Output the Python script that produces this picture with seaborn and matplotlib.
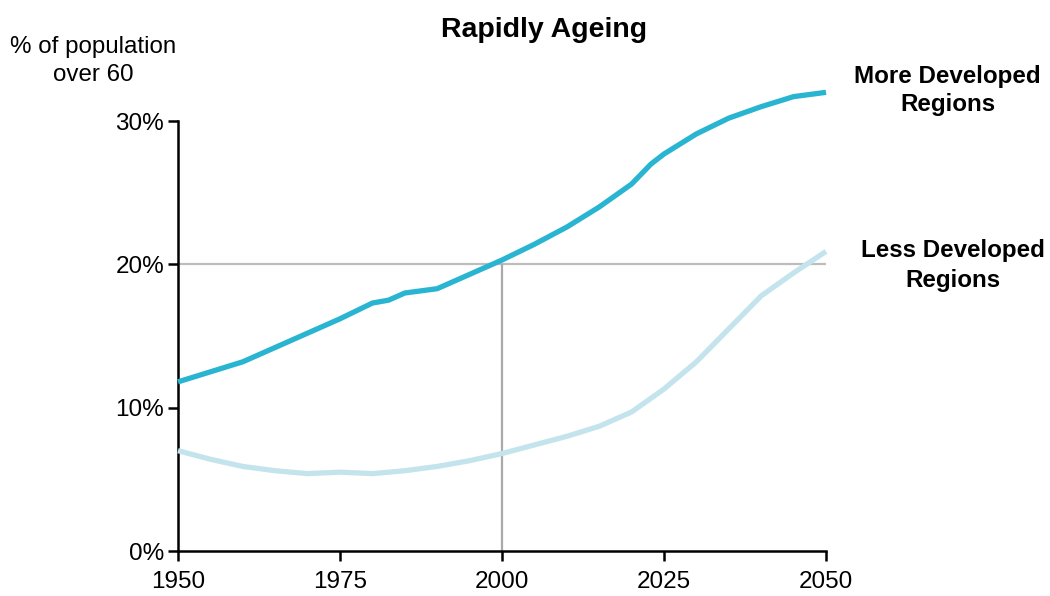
import matplotlib
matplotlib.use("Agg")
import matplotlib.pyplot as plt
import seaborn as sns
import pandas as pd

# Share of population aged over 60 (%)
years_more = [1950, 1955, 1960, 1965, 1970, 1975, 1980, 1982.5, 1985, 1990, 1995,
              2000, 2005, 2010, 2015, 2020, 2023, 2025, 2030, 2035, 2040, 2045, 2050]
more_developed = [11.8, 12.5, 13.2, 14.2, 15.2, 16.2, 17.3, 17.5, 18.0, 18.3, 19.3,
                  20.3, 21.4, 22.6, 24.0, 25.6, 27.0, 27.7, 29.1, 30.2, 31.0, 31.7, 32.0]

years_less = [1950, 1955, 1960, 1965, 1970, 1975, 1980, 1985, 1990, 1995, 2000,
              2005, 2010, 2015, 2020, 2025, 2030, 2035, 2040, 2045, 2050]
less_developed = [7.0, 6.4, 5.9, 5.6, 5.4, 5.5, 5.4, 5.6, 5.9, 6.3, 6.8,
                  7.4, 8.0, 8.7, 9.7, 11.3, 13.2, 15.5, 17.8, 19.4, 20.9]

x_ticks = [1950, 1975, 2000, 2025, 2050]
y_ticks = [0, 10, 20, 30]
y_tick_labels = ["0%", "10%", "20%", "30%"]

df = pd.concat([
    pd.DataFrame({"year": years_more, "share": more_developed, "region": "More Developed Regions"}),
    pd.DataFrame({"year": years_less, "share": less_developed, "region": "Less Developed Regions"}),
])

sns.set_style("white")
plt.rcParams["font.family"] = ["Liberation Sans", "DejaVu Sans"]
plt.rcParams["text.color"] = "black"

fig = plt.figure(figsize=(10.5, 5.96), dpi=100)
ax = fig.add_axes([178 / 1050, 1 - 551 / 596, (826 - 178) / 1050, (551 - 121) / 596])

# reference lines at 20% and year 2000
ax.plot([1950, 2050], [20, 20], color="#bdbdbd", lw=1.6, zorder=1, clip_on=False)
ax.plot([2000, 2000], [0, 20], color="#aaaaaa", lw=1.6, zorder=1)

palette = {"More Developed Regions": "#29b5d2", "Less Developed Regions": "#c4e4ed"}
sns.lineplot(data=df, x="year", y="share", hue="region", palette=palette,
             linewidth=3.8, legend=False, ax=ax, zorder=3)
for line in ax.lines:
    line.set_clip_on(False)
    line.set_solid_capstyle("butt")

ax.set_xlim(1950, 2050)
ax.set_ylim(0, 30)
ax.set_xticks(x_ticks)
ax.set_xticklabels([str(y) for y in x_ticks])
ax.set_yticks(y_ticks)
ax.set_yticklabels(y_tick_labels)
ax.set_xlabel("")
ax.set_ylabel("")

for side in ["top", "right"]:
    ax.spines[side].set_visible(False)
for side in ["left", "bottom"]:
    ax.spines[side].set_color("black")
    ax.spines[side].set_linewidth(1.8)

ax.tick_params(axis="both", which="major", direction="out", length=7, width=1.8,
               color="black", labelsize=17.5, labelcolor="black", pad=3)
ax.tick_params(axis="x", bottom=True, pad=7.5)
ax.tick_params(axis="y", left=True)

fig.text(544 / 1050, 1 - 30 / 596, "Rapidly Ageing", ha="center", va="center",
         fontsize=20.5, fontweight="bold")
fig.text(93 / 1050, 1 - 47 / 596, "% of population", ha="center", va="center", fontsize=17.4)
fig.text(93 / 1050, 1 - 75 / 596, "over 60", ha="center", va="center", fontsize=17.4)

fig.text(947 / 1050, 1 - 77 / 596, "More Developed", ha="center", va="center",
         fontsize=17.4, fontweight="bold")
fig.text(948 / 1050, 1 - 105 / 596, "Regions", ha="center", va="center",
         fontsize=17.4, fontweight="bold")
fig.text(953 / 1050, 1 - 251 / 596, "Less Developed", ha="center", va="center",
         fontsize=17.4, fontweight="bold")
fig.text(953 / 1050, 1 - 280 / 596, "Regions", ha="center", va="center",
         fontsize=17.4, fontweight="bold")

fig.savefig("out.png", dpi=100, facecolor="white")
